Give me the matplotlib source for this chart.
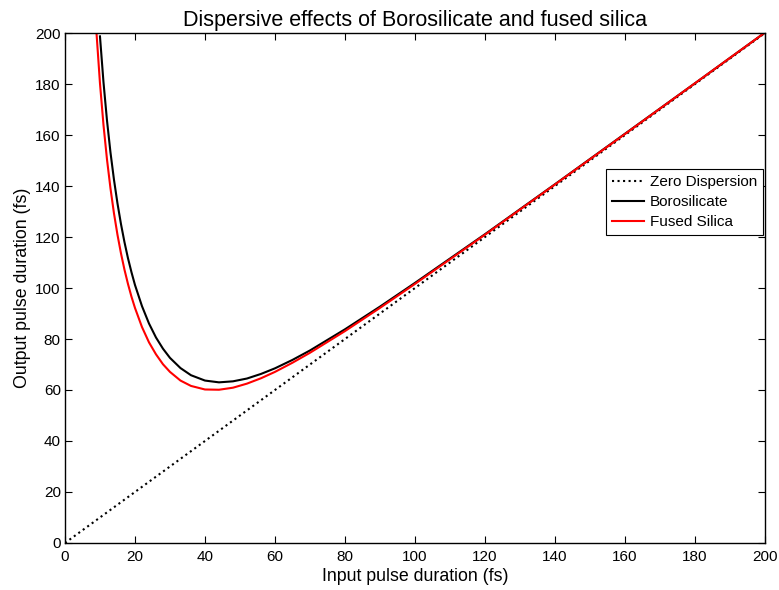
import numpy as np
import matplotlib.pyplot as plt

plt.rcParams['font.family'] = ['Liberation Sans', 'DejaVu Sans']

# zero dispersion reference line
x_zero = [0, 200]
y_zero = [0, 200]

# borosilicate
x_boro = [10, 11, 12, 13, 14, 15, 16, 17, 18, 19, 20, 22, 24, 26, 28, 30, 33, 36,
          40, 44, 48, 52, 56, 60, 65, 70, 80, 90, 100, 120, 140, 160, 180, 200]
y_boro = [198.7, 180.8, 165.8, 153.2, 142.5, 133.2, 125.1, 118.0, 111.7, 106.2,
          101.2, 92.9, 86.1, 80.6, 76.2, 72.6, 68.6, 65.8, 63.7, 63.0, 63.4, 64.5,
          66.3, 68.5, 71.8, 75.5, 83.8, 92.7, 102.0, 121.1, 140.7, 160.5, 180.3, 200.2]

# fused silica
x_fs = [9, 10, 11, 12, 13, 14, 15, 16, 17, 18, 19, 20, 22, 24, 26, 28, 30, 33, 36,
        40, 44, 48, 52, 56, 60, 65, 70, 80, 90, 100, 120, 140, 160, 180, 200]
y_fs = [200.2, 180.3, 164.0, 150.5, 139.1, 129.3, 120.9, 113.6, 107.2, 101.6, 96.6,
        92.2, 84.7, 78.7, 74.0, 70.1, 67.1, 63.7, 61.6, 60.2, 60.1, 60.9, 62.5,
        64.6, 67.1, 70.7, 74.6, 83.1, 92.2, 101.6, 120.9, 140.6, 160.4, 180.3, 200.2]

fig = plt.figure(figsize=(7.79, 5.90), dpi=100)
ax = fig.add_axes([0.0834, 0.0797, 0.8986, 0.8643])

ax.plot(x_zero, y_zero, ':k', lw=1.5, label='Zero Dispersion')
ax.plot(x_boro, y_boro, '-k', lw=1.5, label='Borosilicate')
ax.plot(x_fs, y_fs, '-r', lw=1.5, label='Fused Silica')

ax.set_xlim(0, 200)
ax.set_ylim(0, 200)
ax.set_xticks(np.arange(0, 201, 20))
ax.set_yticks(np.arange(0, 201, 20))
ax.tick_params(direction='in', top=True, right=True, length=5, labelsize=11)
ax.tick_params(axis='x', pad=5)
ax.tick_params(axis='y', pad=3)
for s in ax.spines.values():
    s.set_linewidth(1.0)

ax.set_xlabel('Input pulse duration (fs)', fontsize=12.8, labelpad=3)
ax.set_ylabel('Output pulse duration (fs)', fontsize=12.8, labelpad=3)
ax.set_title('Dispersive effects of Borosilicate and fused silica', fontsize=15.5, pad=5)

leg = ax.legend(loc='upper right', bbox_to_anchor=(0.997, 0.733), borderaxespad=0,
                fancybox=False, framealpha=1, edgecolor='k', fontsize=11,
                handlelength=2.1, handletextpad=0.35, labelspacing=0.38,
                borderpad=0.4)
leg.get_frame().set_linewidth(0.8)

fig.savefig('out.png', dpi=100)
